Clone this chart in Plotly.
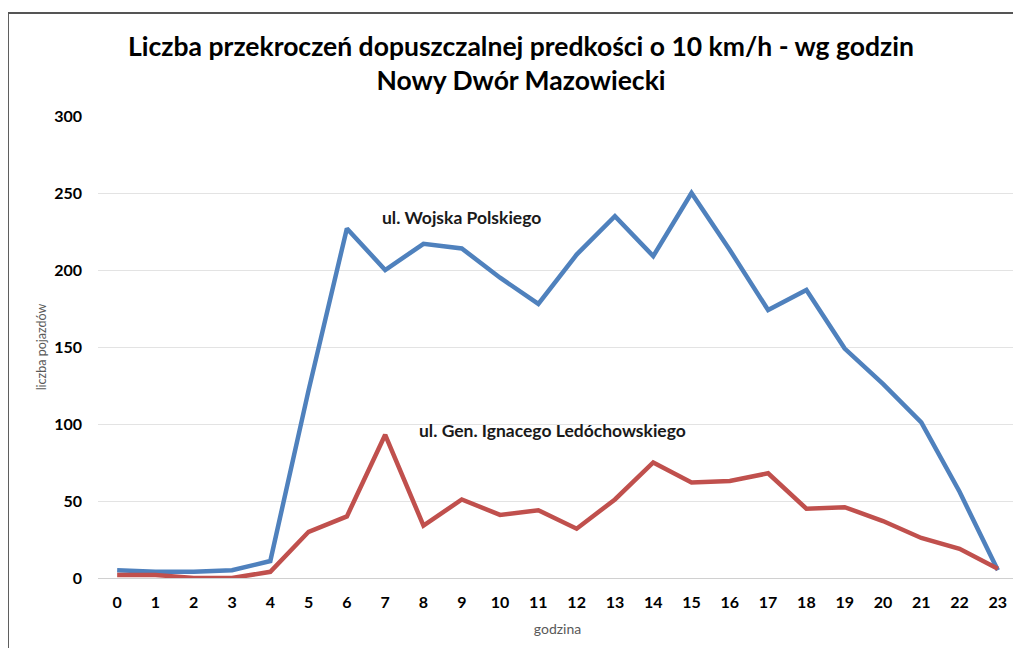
import plotly.graph_objects as go

# godziny doby
hours = [str(h) for h in range(24)]

# ul. Wojska Polskiego
wojska = [5, 4, 4, 5, 11, 122, 227, 200, 217, 214, 195, 178,
          210, 235, 209, 250, 213, 174, 187, 149, 126, 101, 56, 5]

# ul. Gen. Ignacego Ledóchowskiego
ledochowskiego = [2, 2, 0, 0, 4, 30, 40, 93, 34, 51, 41, 44,
                  32, 51, 75, 62, 63, 68, 45, 46, 37, 26, 19, 6]

y_ticks = [0, 50, 100, 150, 200, 250, 300]

font_name = "Lato"

fig = go.Figure()

fig.add_trace(go.Scatter(
    x=hours, y=wojska, mode="lines",
    line=dict(color="#4F81BD", width=4.5),
    name="ul. Wojska Polskiego", showlegend=False
))
fig.add_trace(go.Scatter(
    x=hours, y=ledochowskiego, mode="lines",
    line=dict(color="#C0504D", width=4.5),
    name="ul. Gen. Ignacego Ledóchowskiego", showlegend=False
))

# series labels placed inside the plot
fig.add_annotation(x=9, y=234, text="<b>ul. Wojska Polskiego</b>", showarrow=False,
                   font=dict(family=font_name, size=17.5, color="#1a1a1a"))
fig.add_annotation(x=11.38, y=96, text="<b>ul. Gen. Ignacego Ledóchowskiego</b>", showarrow=False,
                   font=dict(family=font_name, size=17.5, color="#1a1a1a"))

# frame around the chart (left and top edge visible)
fig.add_shape(type="line", xref="paper", yref="paper", x0=-0.098, x1=-0.098, y0=-0.2, y1=1.223,
              line=dict(color="#555555", width=2))
fig.add_shape(type="line", xref="paper", yref="paper", x0=-0.098, x1=1.01, y0=1.223, y1=1.223,
              line=dict(color="#555555", width=2))

fig.update_layout(
    width=1013, height=640,
    margin=dict(l=90, r=4, t=108, b=70),
    paper_bgcolor="white", plot_bgcolor="white",
    font=dict(family=font_name),
    title=dict(
        text="<b>Liczba przekroczeń dopuszczalnej predkości o 10 km/h - wg godzin<br>Nowy Dwór Mazowiecki</b>",
        x=0.5064, xanchor="center", y=0.925, yanchor="middle",
        font=dict(family=font_name, size=26.5, color="#000000"),
    ),
    xaxis=dict(
        type="category", range=[-0.5, 23.5],
        showgrid=False, zeroline=False, showline=False, ticks="",
        ticklabelstandoff=13,
        tickfont=dict(family=font_name, size=16, color="#000000", weight="bold"),
        title=dict(text="godzina", font=dict(family=font_name, size=14, color="#595959"), standoff=14),
    ),
    yaxis=dict(
        range=[0, 300], tickvals=y_ticks,
        showgrid=True, gridcolor="#E3E3E3", gridwidth=1,
        zeroline=True, zerolinecolor="#D0D0D0", zerolinewidth=1,
        showline=False, ticks="", ticklabelstandoff=15,
        tickfont=dict(family=font_name, size=16, color="#000000", weight="bold"),
        title=dict(text="liczba pojazdów", font=dict(family=font_name, size=12.5, color="#595959"), standoff=4),
    ),
)

fig.write_html("out.html")
